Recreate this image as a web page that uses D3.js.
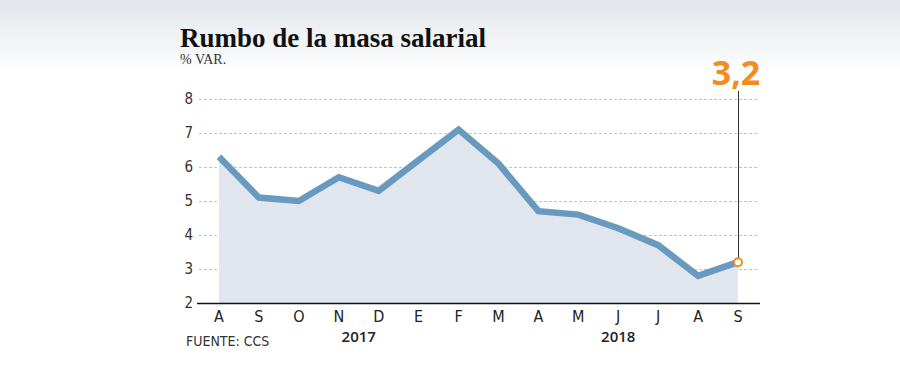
<!DOCTYPE html>
<html>
<head>
<meta charset="utf-8">
<script src="https://cdn.jsdelivr.net/npm/d3@7"></script>
<style>
  html, body { margin: 0; padding: 0; background: #fff; }
  svg { display: block; }
  .tick-label { font-family: "DejaVu Sans", sans-serif; font-stretch: condensed; font-size: 15px; fill: #333; }
</style>
</head>
<body>
<div id="chart"></div>
<script>
// Chart data
var months = ["A", "S", "O", "N", "D", "E", "F", "M", "A", "M", "J", "J", "A", "S"];
var values = [6.3, 5.1, 5.0, 5.7, 5.3, 6.2, 7.1, 6.1, 4.7, 4.6, 4.2, 3.7, 2.8, 3.2];
var yTicks = [2, 3, 4, 5, 6, 7, 8];
var years = [{label: "2017", pos: 3.5}, {label: "2018", pos: 10}];

var width = 900, height = 386;

var svg = d3.select("#chart").append("svg")
    .attr("width", width)
    .attr("height", height);

// Background gradient at the top
var defs = svg.append("defs");
var grad = defs.append("linearGradient")
    .attr("id", "bg-grad")
    .attr("x1", 0).attr("y1", 0).attr("x2", 0).attr("y2", 1);
grad.append("stop").attr("offset", "0%").attr("stop-color", "#e2e6ea");
grad.append("stop").attr("offset", "100%").attr("stop-color", "#ffffff");

svg.append("rect")
    .attr("width", width)
    .attr("height", 75)
    .attr("fill", "url(#bg-grad)");

// Scales
var xScale = d3.scaleLinear()
    .domain([0, months.length - 1])
    .range([219, 738]);

var yScale = d3.scaleLinear()
    .domain([2, 8])
    .range([303, 99]);

// Title
svg.append("text")
    .attr("x", 180)
    .attr("y", 47)
    .style("font-family", "'Liberation Serif', 'DejaVu Serif', serif")
    .style("font-weight", "bold")
    .style("font-size", "27px")
    .style("fill", "#111")
    .text("Rumbo de la masa salarial");

svg.append("text")
    .attr("x", 180)
    .attr("y", 64)
    .style("font-family", "'Liberation Serif', 'DejaVu Serif', serif")
    .style("font-size", "14px")
    .style("fill", "#333")
    .text("% VAR.");

// Gridlines
svg.append("g").selectAll("line")
    .data(yTicks.filter(function(d) { return d > 2; }))
    .enter()
    .append("line")
    .attr("x1", 199)
    .attr("x2", 757)
    .attr("y1", function(d) { return yScale(d) + 0.5; })
    .attr("y2", function(d) { return yScale(d) + 0.5; })
    .attr("stroke", "#c4c4c4")
    .attr("stroke-dasharray", "3,2");

// Y tick labels
svg.append("g").selectAll("text")
    .data(yTicks)
    .enter()
    .append("text")
    .attr("class", "tick-label")
    .attr("x", 193)
    .attr("y", function(d) { return yScale(d) + 5; })
    .attr("text-anchor", "end")
    .text(function(d) { return d; });

// Area under the line
var area = d3.area()
    .x(function(d, i) { return xScale(i); })
    .y0(yScale(2))
    .y1(function(d) { return yScale(d); });

svg.append("path")
    .datum(values)
    .attr("d", area)
    .attr("fill", "#e1e6ee");

// Baseline axis
svg.append("line")
    .attr("x1", 197)
    .attr("x2", 760)
    .attr("y1", yScale(2) + 0.5)
    .attr("y2", yScale(2) + 0.5)
    .attr("stroke", "#111")
    .attr("stroke-width", 1.5);

// Line
var line = d3.line()
    .x(function(d, i) { return xScale(i); })
    .y(function(d) { return yScale(d); });

svg.append("path")
    .datum(values)
    .attr("d", line)
    .attr("fill", "none")
    .attr("stroke", "#6899be")
    .attr("stroke-width", 6.5)
    .attr("stroke-linejoin", "miter");

// X month labels
svg.append("g").selectAll("text")
    .data(months)
    .enter()
    .append("text")
    .attr("class", "tick-label")
    .attr("x", function(d, i) { return xScale(i); })
    .attr("y", 322)
    .attr("text-anchor", "middle")
    .style("font-size", "16px")
    .style("fill", "#222")
    .text(function(d) { return d; });

// Year labels
svg.append("g").selectAll("text")
    .data(years)
    .enter()
    .append("text")
    .attr("x", function(d) { return xScale(d.pos); })
    .attr("y", 342)
    .attr("text-anchor", "middle")
    .style("font-family", "'Open Sans', sans-serif")
    .style("font-size", "15px")
    .style("font-weight", "600")
    .style("fill", "#222")
    .text(function(d) { return d.label; });

// Source
svg.append("text")
    .attr("class", "tick-label")
    .attr("x", 186)
    .attr("y", 346)
    .style("font-size", "14px")
    .text("FUENTE: CCS");

// Annotation for last value
var last = values.length - 1;
svg.append("line")
    .attr("x1", xScale(last) + 0.5)
    .attr("x2", xScale(last) + 0.5)
    .attr("y1", 91)
    .attr("y2", yScale(values[last]))
    .attr("stroke", "#333")
    .attr("stroke-width", 1);

svg.append("circle")
    .attr("cx", xScale(last))
    .attr("cy", yScale(values[last]))
    .attr("r", 4)
    .attr("fill", "#fff")
    .attr("stroke", "#f28c1c")
    .attr("stroke-width", 2);

svg.append("text")
    .attr("x", xScale(last) - 2)
    .attr("y", 85)
    .attr("text-anchor", "middle")
    .style("font-family", "'Open Sans', sans-serif")
    .style("font-weight", "bold")
    .style("font-size", "34px")
    .style("fill", "#f28c1c")
    .text(String(values[last]).replace(".", ","));
</script>
</body>
</html>
